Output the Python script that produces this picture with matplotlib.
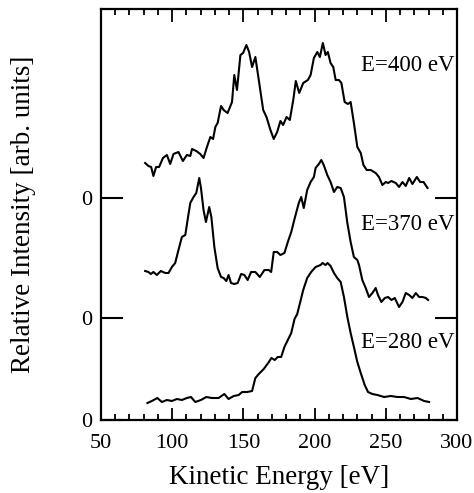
import numpy as np
import matplotlib
matplotlib.use('Agg')
import matplotlib.pyplot as plt
from matplotlib.ticker import MultipleLocator

plt.rcParams['font.family'] = ['Liberation Serif', 'DejaVu Serif']

# kinetic energy [eV] and relative intensity [arb. units]
ke_400 = [81.0, 83.3, 85.2, 86.8, 88.7, 90.8, 93.5, 96.3, 98.6, 100.9, 104.4, 107.5, 110.3, 112.7,
          113.9, 116.9, 119.7, 122.0, 124.4, 126.8, 128.7, 130.3, 131.9, 134.3, 136.1, 138.9, 142.0,
          143.6, 145.5, 147.9, 149.8, 152.1, 154.0, 156.1, 158.4, 160.8, 163.9, 166.2, 169.0, 171.3,
          173.7, 176.0, 177.9, 180.3, 182.6, 185.0, 186.8, 189.2, 192.0, 195.3, 197.2, 199.5, 201.9,
          203.7, 205.8, 207.7, 209.3, 211.2, 213.1, 214.8, 217.1, 218.8, 221.1, 223.4, 225.3, 227.6,
          230.0, 232.4, 234.3, 236.6, 239.4, 242.9, 245.2, 247.6, 250.0, 251.6, 254.0, 257.0, 259.3,
          261.7, 264.0, 266.4, 268.7, 271.8, 274.1, 276.5, 279.3]
int_400 = [0.35, 0.32, 0.31, 0.22, 0.31, 0.31, 0.40, 0.43, 0.34, 0.44, 0.46, 0.37, 0.43, 0.42,
           0.49, 0.47, 0.44, 0.40, 0.51, 0.61, 0.59, 0.71, 0.75, 0.92, 0.88, 0.85, 0.96,
           1.23, 1.08, 1.43, 1.45, 1.53, 1.46, 1.31, 1.41, 1.18, 0.88, 0.81, 0.68, 0.59,
           0.66, 0.77, 0.73, 0.81, 0.78, 0.98, 1.17, 1.05, 1.15, 1.18, 1.23, 1.40, 1.46,
           1.41, 1.55, 1.43, 1.46, 1.35, 1.31, 1.18, 1.18, 1.15, 0.96, 0.94, 0.96, 0.75,
           0.51, 0.45, 0.33, 0.28, 0.28, 0.25, 0.21, 0.13, 0.16, 0.15, 0.17, 0.15, 0.11,
           0.16, 0.12, 0.20, 0.14, 0.21, 0.16, 0.16, 0.10]

ke_370 = [81.0, 83.3, 85.0, 86.8, 89.2, 92.0, 95.1, 97.4, 99.8, 102.1, 104.4, 106.8, 109.2, 110.8,
          112.7, 115.0, 116.9, 119.0, 120.2, 122.0, 123.7, 126.0, 127.5, 129.6, 131.9, 134.3, 136.1,
          138.0, 139.6, 141.3, 143.6, 146.0, 148.4, 150.7, 153.0, 155.4, 158.4, 161.5, 164.8, 167.8,
          169.5, 171.3, 173.7, 176.0, 178.8, 181.2, 183.6, 185.9, 188.9, 190.6, 192.4, 194.8, 197.2,
          199.5, 200.7, 203.0, 204.7, 206.4, 208.9, 211.2, 213.6, 215.9, 218.3, 220.6, 223.0, 225.3,
          227.6, 230.0, 231.2, 233.5, 235.9, 238.2, 240.6, 242.9, 244.5, 246.9, 249.3, 251.6, 254.0,
          256.3, 259.3, 261.7, 264.0, 266.4, 268.7, 271.1, 273.4, 275.8, 278.1, 279.7]
int_370 = [0.47, 0.46, 0.44, 0.46, 0.43, 0.47, 0.45, 0.45, 0.51, 0.55, 0.68, 0.81, 0.83, 0.98,
           1.15, 1.21, 1.25, 1.40, 1.30, 1.08, 0.96, 1.11, 1.01, 0.71, 0.50, 0.41, 0.40,
           0.37, 0.43, 0.35, 0.34, 0.35, 0.44, 0.43, 0.38, 0.46, 0.46, 0.41, 0.48, 0.48,
           0.46, 0.66, 0.66, 0.63, 0.65, 0.76, 0.86, 0.99, 1.15, 1.21, 1.10, 1.28, 1.36,
           1.41, 1.50, 1.54, 1.58, 1.53, 1.43, 1.36, 1.26, 1.31, 1.30, 1.21, 0.95, 0.76,
           0.61, 0.58, 0.53, 0.38, 0.30, 0.21, 0.25, 0.30, 0.23, 0.16, 0.20, 0.21, 0.18,
           0.20, 0.11, 0.16, 0.25, 0.23, 0.20, 0.25, 0.21, 0.21, 0.20, 0.18]

ke_280 = [82.6, 85.7, 89.6, 92.7, 96.3, 99.8, 103.3, 106.8, 110.3, 113.2, 116.2, 120.2, 123.9, 127.9,
          132.6, 136.6, 139.6, 143.2, 146.7, 149.1, 152.6, 156.1, 158.4, 160.8, 164.3, 167.4, 169.7,
          172.0, 174.1, 176.5, 178.8, 181.2, 183.6, 185.9, 187.8, 190.1, 192.0, 194.8, 197.6, 200.7,
          204.2, 205.6, 207.7, 209.1, 211.2, 213.6, 215.9, 218.3, 220.6, 223.0, 225.3, 227.6, 230.0,
          232.4, 235.2, 237.5, 240.6, 244.1, 248.8, 253.5, 258.2, 262.8, 267.6, 272.3, 276.9, 280.4]
int_280 = [0.17, 0.19, 0.22, 0.18, 0.20, 0.19, 0.21, 0.20, 0.22, 0.23, 0.18, 0.20, 0.23, 0.22,
           0.22, 0.26, 0.21, 0.24, 0.25, 0.28, 0.28, 0.29, 0.42, 0.46, 0.51, 0.57, 0.62,
           0.60, 0.63, 0.63, 0.73, 0.80, 0.87, 1.01, 1.06, 1.19, 1.30, 1.42, 1.48, 1.53,
           1.55, 1.57, 1.55, 1.57, 1.54, 1.47, 1.42, 1.38, 1.23, 1.03, 0.87, 0.73, 0.58,
           0.47, 0.35, 0.28, 0.26, 0.25, 0.23, 0.24, 0.23, 0.23, 0.21, 0.22, 0.19, 0.18]

offsets = [0.0, 1.02, 2.22]
labels = ['E=280 eV', 'E=370 eV', 'E=400 eV']
label_y = [0.78, 1.95, 3.55]


def main():
    fig = plt.figure(figsize=(4.74, 4.93), dpi=100)
    ax = fig.add_axes([101 / 474, 73 / 493, 356 / 474, 411 / 493])

    series = [(ke_280, int_280), (ke_370, int_370), (ke_400, int_400)]
    for (ke, inten), off, lab, ly in zip(series, offsets, labels, label_y):
        ax.plot(ke, np.array(inten) + off, color='black', lw=1.5)
        ax.text(298, ly, lab, ha='right', va='center', fontsize=16.5)

    ax.set_xlim(50, 300)
    ax.set_ylim(0, 4.11)
    ax.xaxis.set_major_locator(MultipleLocator(50))
    ax.xaxis.set_minor_locator(MultipleLocator(10))
    ax.tick_params(axis='x', which='major', direction='in', top=True, length=9, width=1.3,
                   labelsize=16, pad=10)
    ax.tick_params(axis='x', which='minor', direction='in', top=True, length=4.5, width=1.3)

    ax.set_yticks(offsets)
    ax.set_yticklabels(['0', '0', '0'])
    ax.tick_params(axis='y', direction='in', right=True, length=16, width=1.5,
                   labelsize=16, pad=6)

    for s in ax.spines.values():
        s.set_linewidth(1.6)

    ax.set_xlabel('Kinetic Energy [eV]', fontsize=19.5, labelpad=9)
    ax.set_ylabel('Relative Intensity [arb. units]', fontsize=19.5, labelpad=33)

    fig.savefig('out.png', dpi=100)


if __name__ == '__main__':
    main()
